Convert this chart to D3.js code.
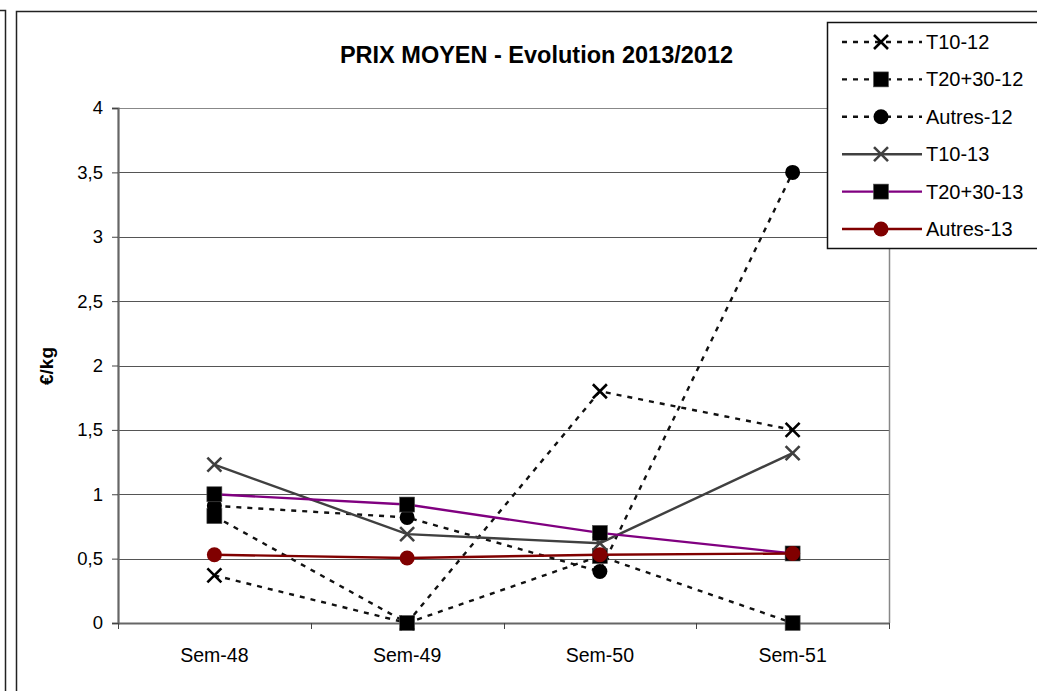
<!DOCTYPE html>
<html><head><meta charset="utf-8">
<script src="https://cdn.jsdelivr.net/npm/d3@7"></script>
<style>
html,body{margin:0;padding:0;background:#fff;}
svg{display:block;font-family:"Liberation Sans",Arial,sans-serif;}
</style></head>
<body>
<script>
const categories = ["Sem-48","Sem-49","Sem-50","Sem-51"];
const t10_12   = [0.37, 0, 1.8, 1.5];
const t2030_12 = [0.83, 0, 0.52, 0];
const autres_12= [0.91, 0.82, 0.40, 3.5];
const t10_13   = [1.23, 0.69, 0.62, 1.32];
const t2030_13 = [1.0, 0.92, 0.70, 0.54];
const autres_13= [0.53, 0.505, 0.53, 0.54];
const yTicks = [0,0.5,1,1.5,2,2.5,3,3.5,4];
const seriesNames = ["T10-12","T20+30-12","Autres-12","T10-13","T20+30-13","Autres-13"];
const title = "PRIX MOYEN - Evolution 2013/2012";
const yLabel = "€/kg";

const series = [
  {name:seriesNames[0], values:t10_12,   line:"#111", dash:"5,6", marker:"x", mcolor:"#000"},
  {name:seriesNames[1], values:t2030_12, line:"#111", dash:"5,6", marker:"square", mcolor:"#000"},
  {name:seriesNames[2], values:autres_12,line:"#111", dash:"5,6", marker:"circle", mcolor:"#000"},
  {name:seriesNames[3], values:t10_13,   line:"#404040", dash:null, marker:"x", mcolor:"#404040"},
  {name:seriesNames[4], values:t2030_13, line:"#800080", dash:null, marker:"square", mcolor:"#000"},
  {name:seriesNames[5], values:autres_13,line:"#800000", dash:null, marker:"circle", mcolor:"#800000"}
];

const W=1037,H=691;
const svg=d3.select("body").append("svg").attr("width",W).attr("height",H);

// left panel fragment and chart border
svg.append("path").attr("d","M-5,10.5H5.5V700").attr("fill","none").attr("stroke","#222").attr("stroke-width",1.5);
svg.append("rect").attr("x",16.5).attr("y",11.5).attr("width",1100).attr("height",800)
  .attr("fill","none").attr("stroke","#222").attr("stroke-width",1.5);

const x=d3.scaleBand().domain(categories).range([118,889]).padding(0);
const y=d3.scaleLinear().domain([0,4]).range([623,108]);
const cx=c=>x(c)+x.bandwidth()/2;

// gridlines
svg.append("g").selectAll("line").data(yTicks.filter(d=>d>0)).join("line")
  .attr("x1",x.range()[0]).attr("x2",x.range()[1])
  .attr("y1",d=>Math.round(y(d))+0.5).attr("y2",d=>Math.round(y(d))+0.5)
  .attr("stroke",d=>d===4?"#888":"#555").attr("stroke-width",1);
// right border of plot
svg.append("line").attr("x1",x.range()[1]+0.5).attr("x2",x.range()[1]+0.5)
  .attr("y1",y(4)).attr("y2",y(0)).attr("stroke","#888").attr("stroke-width",1.5);

// y axis
const fmt=d=>String(d).replace(".",",");
const ya=svg.append("g").attr("transform",`translate(${x.range()[0]},0)`)
  .call(d3.axisLeft(y).tickValues(yTicks).tickFormat(fmt).tickSize(6).tickPadding(9));
ya.select(".domain").attr("stroke","#666").attr("stroke-width",2.2);
ya.selectAll(".tick line").attr("stroke","#444");
ya.selectAll("text").attr("font-size",18.5).attr("fill","#000").attr("font-family","Liberation Sans, Arial");

// x axis
const xa=svg.append("g").attr("transform",`translate(0,${y(0)})`)
  .call(d3.axisBottom(x).tickSize(0).tickPadding(25));
xa.select(".domain").attr("stroke","#666").attr("stroke-width",2.2);
xa.selectAll("text").attr("font-size",19.5).attr("fill","#000").attr("font-family","Liberation Sans, Arial");
const bounds=categories.map(c=>x(c)).concat([x.range()[1]]);
xa.append("g").selectAll("line").data(bounds).join("line")
  .attr("x1",d=>Math.round(d)+0.5).attr("x2",d=>Math.round(d)+0.5).attr("y1",0).attr("y2",6)
  .attr("stroke","#444");

// title
svg.append("text").attr("x",536.5).attr("y",63).attr("text-anchor","middle")
  .attr("font-size",23.5).attr("font-weight","bold").text(title);
// y label
svg.append("text").attr("transform",`translate(53,366) rotate(-90)`).attr("text-anchor","middle")
  .attr("font-size",19).attr("font-weight","bold").text(yLabel);

function drawMarker(g,type,px,py,color){
  if(type==="x"){
    const s=7;
    g.append("path").attr("d",`M${px-s},${py-s}L${px+s},${py+s}M${px-s},${py+s}L${px+s},${py-s}`)
      .attr("stroke",color).attr("stroke-width",2.6).attr("fill","none");
  } else if(type==="square"){
    g.append("rect").attr("x",px-7.5).attr("y",py-7.5).attr("width",15).attr("height",15)
      .attr("fill",color).attr("stroke","#555").attr("stroke-width",0.6);
  } else {
    g.append("circle").attr("cx",px).attr("cy",py).attr("r",7.5).attr("fill",color);
  }
}

const line=d3.line().x((d,i)=>cx(categories[i])).y(d=>y(d));
series.forEach(s=>{
  const g=svg.append("g");
  g.append("path").datum(s.values).attr("d",line).attr("fill","none")
    .attr("stroke",s.line).attr("stroke-width",2.4).attr("stroke-dasharray",s.dash);
  s.values.forEach((v,i)=>drawMarker(g,s.marker,cx(categories[i]),y(v),s.mcolor));
});

// legend
svg.append("rect").attr("x",827.5).attr("y",22.5).attr("width",300).attr("height",226)
  .attr("fill","#fff").attr("stroke","#111").attr("stroke-width",1.5);
const ly=d3.scalePoint().domain(seriesNames).range([42,229]);
series.forEach(s=>{
  const g=svg.append("g");
  const yy=ly(s.name);
  g.append("line").attr("x1",842).attr("x2",922).attr("y1",yy).attr("y2",yy)
    .attr("stroke",s.line).attr("stroke-width",2.4).attr("stroke-dasharray",s.dash);
  drawMarker(g,s.marker,881,yy,s.mcolor);
  g.append("text").attr("x",926).attr("y",yy+7).attr("font-size",20).text(s.name);
});
</script>
</body></html>
